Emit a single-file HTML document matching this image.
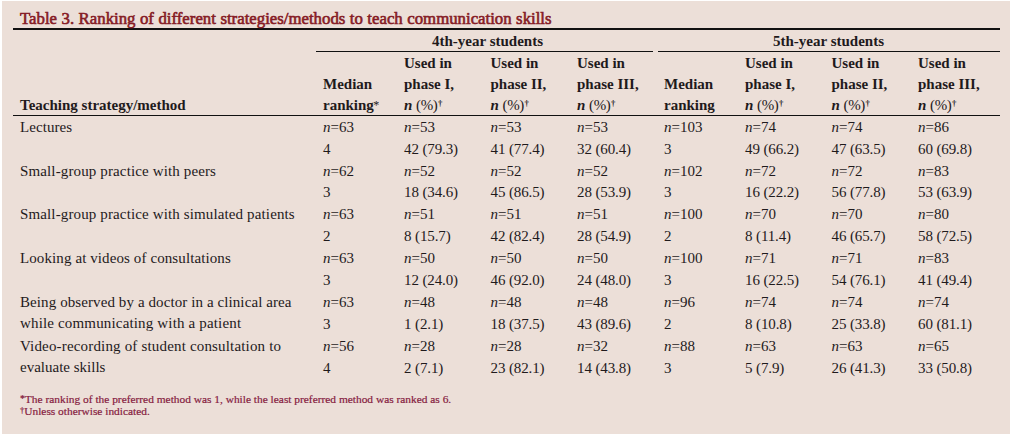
<!DOCTYPE html>
<html><head><meta charset="utf-8"><style>
html,body{margin:0;padding:0;background:#fff;width:1014px;height:434px;overflow:hidden}
#bg{position:absolute;left:2px;top:1px;width:1008px;height:433px;background:#ecdfd8}
.t{position:absolute;white-space:nowrap;font-family:"Liberation Serif",serif;line-height:20px;color:#1f1a1c}
.b{font-weight:bold}
.red{color:#861b25}
.ln{position:absolute;background:#111}
sup{font-size:0.6em;vertical-align:0.45em;line-height:0}
.nb{font-weight:normal;letter-spacing:-0.4px}
.dg{font-size:0.58em;vertical-align:0.45em;margin-left:0.5px}
.fa{font-size:0.85em;vertical-align:0.12em}
.fd{font-size:0.75em;vertical-align:0.22em}
.ast{font-size:0.8em;vertical-align:0.1em;font-weight:normal;margin-left:-0.5px}
</style></head><body><div id="bg"></div>
<div class="ln" style="left:13px;top:28px;width:987px;height:2px"></div><div class="ln" style="left:316px;top:51px;width:337px;height:1px"></div><div class="ln" style="left:658px;top:51px;width:342px;height:1px"></div><div class="ln" style="left:13px;top:115px;width:987px;height:1px"></div>
<div class="t red" style="left:20px;top:8.83px;font-size:16.8px;word-spacing:0.3px;-webkit-text-stroke:0.6px #861b25">Table 3. Ranking of different strategies/methods to teach communication skills</div><div class="t b" style="left:432px;top:30.54px;font-size:15px;">4th-year students</div><div class="t b" style="left:773px;top:30.54px;font-size:15px;">5th-year students</div><div class="t b" style="left:20px;top:94.94px;font-size:15px;">Teaching strategy/method</div><div class="t b" style="left:323px;top:73.64px;font-size:15px;">Median</div><div class="t b" style="left:323px;top:94.94px;font-size:15px;">ranking<sup class="ast">*</sup></div><div class="t b" style="left:664px;top:73.64px;font-size:15px;">Median</div><div class="t b" style="left:664px;top:94.94px;font-size:15px;">ranking</div><div class="t b" style="left:404px;top:52.74px;font-size:15px;">Used in</div><div class="t b" style="left:404px;top:73.64px;font-size:15px;">phase I,</div><div class="t b" style="left:404px;top:94.94px;font-size:15px;"><i>n</i> <span class="nb">(%)</span><sup class="dg">†</sup></div><div class="t b" style="left:490.5px;top:52.74px;font-size:15px;">Used in</div><div class="t b" style="left:490.5px;top:73.64px;font-size:15px;">phase II,</div><div class="t b" style="left:490.5px;top:94.94px;font-size:15px;"><i>n</i> <span class="nb">(%)</span><sup class="dg">†</sup></div><div class="t b" style="left:577px;top:52.74px;font-size:15px;">Used in</div><div class="t b" style="left:577px;top:73.64px;font-size:15px;">phase III,</div><div class="t b" style="left:577px;top:94.94px;font-size:15px;"><i>n</i> <span class="nb">(%)</span><sup class="dg">†</sup></div><div class="t b" style="left:745px;top:52.74px;font-size:15px;">Used in</div><div class="t b" style="left:745px;top:73.64px;font-size:15px;">phase I,</div><div class="t b" style="left:745px;top:94.94px;font-size:15px;"><i>n</i> <span class="nb">(%)</span><sup class="dg">†</sup></div><div class="t b" style="left:831.5px;top:52.74px;font-size:15px;">Used in</div><div class="t b" style="left:831.5px;top:73.64px;font-size:15px;">phase II,</div><div class="t b" style="left:831.5px;top:94.94px;font-size:15px;"><i>n</i> <span class="nb">(%)</span><sup class="dg">†</sup></div><div class="t b" style="left:918px;top:52.74px;font-size:15px;">Used in</div><div class="t b" style="left:918px;top:73.64px;font-size:15px;">phase III,</div><div class="t b" style="left:918px;top:94.94px;font-size:15px;"><i>n</i> <span class="nb">(%)</span><sup class="dg">†</sup></div><div class="t " style="left:20px;top:117.44px;font-size:15px;letter-spacing:0.08px">Lectures</div><div class="t " style="left:323px;top:117.44px;font-size:15px;"><i>n</i>=63</div><div class="t " style="left:323px;top:139.44px;font-size:15px;">4</div><div class="t " style="left:404px;top:117.44px;font-size:15px;"><i>n</i>=53</div><div class="t " style="left:404px;top:139.44px;font-size:15px;letter-spacing:-0.12px">42 (79.3)</div><div class="t " style="left:490.5px;top:117.44px;font-size:15px;"><i>n</i>=53</div><div class="t " style="left:490.5px;top:139.44px;font-size:15px;letter-spacing:-0.12px">41 (77.4)</div><div class="t " style="left:577px;top:117.44px;font-size:15px;"><i>n</i>=53</div><div class="t " style="left:577px;top:139.44px;font-size:15px;letter-spacing:-0.12px">32 (60.4)</div><div class="t " style="left:664px;top:117.44px;font-size:15px;"><i>n</i>=103</div><div class="t " style="left:664px;top:139.44px;font-size:15px;">3</div><div class="t " style="left:745px;top:117.44px;font-size:15px;"><i>n</i>=74</div><div class="t " style="left:745px;top:139.44px;font-size:15px;letter-spacing:-0.12px">49 (66.2)</div><div class="t " style="left:831.5px;top:117.44px;font-size:15px;"><i>n</i>=74</div><div class="t " style="left:831.5px;top:139.44px;font-size:15px;letter-spacing:-0.12px">47 (63.5)</div><div class="t " style="left:918px;top:117.44px;font-size:15px;"><i>n</i>=86</div><div class="t " style="left:918px;top:139.44px;font-size:15px;letter-spacing:-0.12px">60 (69.8)</div><div class="t " style="left:20px;top:160.64px;font-size:15px;letter-spacing:0.13px">Small-group practice with peers</div><div class="t " style="left:323px;top:160.64px;font-size:15px;"><i>n</i>=62</div><div class="t " style="left:323px;top:182.14px;font-size:15px;">3</div><div class="t " style="left:404px;top:160.64px;font-size:15px;"><i>n</i>=52</div><div class="t " style="left:404px;top:182.14px;font-size:15px;letter-spacing:-0.12px">18 (34.6)</div><div class="t " style="left:490.5px;top:160.64px;font-size:15px;"><i>n</i>=52</div><div class="t " style="left:490.5px;top:182.14px;font-size:15px;letter-spacing:-0.12px">45 (86.5)</div><div class="t " style="left:577px;top:160.64px;font-size:15px;"><i>n</i>=52</div><div class="t " style="left:577px;top:182.14px;font-size:15px;letter-spacing:-0.12px">28 (53.9)</div><div class="t " style="left:664px;top:160.64px;font-size:15px;"><i>n</i>=102</div><div class="t " style="left:664px;top:182.14px;font-size:15px;">3</div><div class="t " style="left:745px;top:160.64px;font-size:15px;"><i>n</i>=72</div><div class="t " style="left:745px;top:182.14px;font-size:15px;letter-spacing:-0.12px">16 (22.2)</div><div class="t " style="left:831.5px;top:160.64px;font-size:15px;"><i>n</i>=72</div><div class="t " style="left:831.5px;top:182.14px;font-size:15px;letter-spacing:-0.12px">56 (77.8)</div><div class="t " style="left:918px;top:160.64px;font-size:15px;"><i>n</i>=83</div><div class="t " style="left:918px;top:182.14px;font-size:15px;letter-spacing:-0.12px">53 (63.9)</div><div class="t " style="left:20px;top:203.94px;font-size:15px;letter-spacing:0.13px">Small-group practice with simulated patients</div><div class="t " style="left:323px;top:203.94px;font-size:15px;"><i>n</i>=63</div><div class="t " style="left:323px;top:225.94px;font-size:15px;">2</div><div class="t " style="left:404px;top:203.94px;font-size:15px;"><i>n</i>=51</div><div class="t " style="left:404px;top:225.94px;font-size:15px;letter-spacing:-0.12px">8 (15.7)</div><div class="t " style="left:490.5px;top:203.94px;font-size:15px;"><i>n</i>=51</div><div class="t " style="left:490.5px;top:225.94px;font-size:15px;letter-spacing:-0.12px">42 (82.4)</div><div class="t " style="left:577px;top:203.94px;font-size:15px;"><i>n</i>=51</div><div class="t " style="left:577px;top:225.94px;font-size:15px;letter-spacing:-0.12px">28 (54.9)</div><div class="t " style="left:664px;top:203.94px;font-size:15px;"><i>n</i>=100</div><div class="t " style="left:664px;top:225.94px;font-size:15px;">2</div><div class="t " style="left:745px;top:203.94px;font-size:15px;"><i>n</i>=70</div><div class="t " style="left:745px;top:225.94px;font-size:15px;letter-spacing:-0.12px">8 (11.4)</div><div class="t " style="left:831.5px;top:203.94px;font-size:15px;"><i>n</i>=70</div><div class="t " style="left:831.5px;top:225.94px;font-size:15px;letter-spacing:-0.12px">46 (65.7)</div><div class="t " style="left:918px;top:203.94px;font-size:15px;"><i>n</i>=80</div><div class="t " style="left:918px;top:225.94px;font-size:15px;letter-spacing:-0.12px">58 (72.5)</div><div class="t " style="left:20px;top:247.94px;font-size:15px;letter-spacing:0.1px">Looking at videos of consultations</div><div class="t " style="left:323px;top:247.94px;font-size:15px;"><i>n</i>=63</div><div class="t " style="left:323px;top:270.44px;font-size:15px;">3</div><div class="t " style="left:404px;top:247.94px;font-size:15px;"><i>n</i>=50</div><div class="t " style="left:404px;top:270.44px;font-size:15px;letter-spacing:-0.12px">12 (24.0)</div><div class="t " style="left:490.5px;top:247.94px;font-size:15px;"><i>n</i>=50</div><div class="t " style="left:490.5px;top:270.44px;font-size:15px;letter-spacing:-0.12px">46 (92.0)</div><div class="t " style="left:577px;top:247.94px;font-size:15px;"><i>n</i>=50</div><div class="t " style="left:577px;top:270.44px;font-size:15px;letter-spacing:-0.12px">24 (48.0)</div><div class="t " style="left:664px;top:247.94px;font-size:15px;"><i>n</i>=100</div><div class="t " style="left:664px;top:270.44px;font-size:15px;">3</div><div class="t " style="left:745px;top:247.94px;font-size:15px;"><i>n</i>=71</div><div class="t " style="left:745px;top:270.44px;font-size:15px;letter-spacing:-0.12px">16 (22.5)</div><div class="t " style="left:831.5px;top:247.94px;font-size:15px;"><i>n</i>=71</div><div class="t " style="left:831.5px;top:270.44px;font-size:15px;letter-spacing:-0.12px">54 (76.1)</div><div class="t " style="left:918px;top:247.94px;font-size:15px;"><i>n</i>=83</div><div class="t " style="left:918px;top:270.44px;font-size:15px;letter-spacing:-0.12px">41 (49.4)</div><div class="t " style="left:20px;top:291.74px;font-size:15px;letter-spacing:0.093px">Being observed by a doctor in a clinical area</div><div class="t " style="left:20px;top:312.74px;font-size:15px;letter-spacing:0.16px">while communicating with a patient</div><div class="t " style="left:323px;top:291.74px;font-size:15px;"><i>n</i>=63</div><div class="t " style="left:323px;top:313.94px;font-size:15px;">3</div><div class="t " style="left:404px;top:291.74px;font-size:15px;"><i>n</i>=48</div><div class="t " style="left:404px;top:313.94px;font-size:15px;letter-spacing:-0.12px">1 (2.1)</div><div class="t " style="left:490.5px;top:291.74px;font-size:15px;"><i>n</i>=48</div><div class="t " style="left:490.5px;top:313.94px;font-size:15px;letter-spacing:-0.12px">18 (37.5)</div><div class="t " style="left:577px;top:291.74px;font-size:15px;"><i>n</i>=48</div><div class="t " style="left:577px;top:313.94px;font-size:15px;letter-spacing:-0.12px">43 (89.6)</div><div class="t " style="left:664px;top:291.74px;font-size:15px;"><i>n</i>=96</div><div class="t " style="left:664px;top:313.94px;font-size:15px;">2</div><div class="t " style="left:745px;top:291.74px;font-size:15px;"><i>n</i>=74</div><div class="t " style="left:745px;top:313.94px;font-size:15px;letter-spacing:-0.12px">8 (10.8)</div><div class="t " style="left:831.5px;top:291.74px;font-size:15px;"><i>n</i>=74</div><div class="t " style="left:831.5px;top:313.94px;font-size:15px;letter-spacing:-0.12px">25 (33.8)</div><div class="t " style="left:918px;top:291.74px;font-size:15px;"><i>n</i>=74</div><div class="t " style="left:918px;top:313.94px;font-size:15px;letter-spacing:-0.12px">60 (81.1)</div><div class="t " style="left:20px;top:335.54px;font-size:15px;letter-spacing:0.17px">Video-recording of student consultation to</div><div class="t " style="left:20px;top:356.54px;font-size:15px;letter-spacing:0px">evaluate skills</div><div class="t " style="left:323px;top:335.54px;font-size:15px;"><i>n</i>=56</div><div class="t " style="left:323px;top:358.34px;font-size:15px;">4</div><div class="t " style="left:404px;top:335.54px;font-size:15px;"><i>n</i>=28</div><div class="t " style="left:404px;top:358.34px;font-size:15px;letter-spacing:-0.12px">2 (7.1)</div><div class="t " style="left:490.5px;top:335.54px;font-size:15px;"><i>n</i>=28</div><div class="t " style="left:490.5px;top:358.34px;font-size:15px;letter-spacing:-0.12px">23 (82.1)</div><div class="t " style="left:577px;top:335.54px;font-size:15px;"><i>n</i>=32</div><div class="t " style="left:577px;top:358.34px;font-size:15px;letter-spacing:-0.12px">14 (43.8)</div><div class="t " style="left:664px;top:335.54px;font-size:15px;"><i>n</i>=88</div><div class="t " style="left:664px;top:358.34px;font-size:15px;">3</div><div class="t " style="left:745px;top:335.54px;font-size:15px;"><i>n</i>=63</div><div class="t " style="left:745px;top:358.34px;font-size:15px;letter-spacing:-0.12px">5 (7.9)</div><div class="t " style="left:831.5px;top:335.54px;font-size:15px;"><i>n</i>=63</div><div class="t " style="left:831.5px;top:358.34px;font-size:15px;letter-spacing:-0.12px">26 (41.3)</div><div class="t " style="left:918px;top:335.54px;font-size:15px;"><i>n</i>=65</div><div class="t " style="left:918px;top:358.34px;font-size:15px;letter-spacing:-0.12px">33 (50.8)</div><div class="t red" style="left:20px;top:388.95px;font-size:11.4px;color:#86203f;-webkit-text-stroke:0.2px #86203f"><sup class="fa">*</sup>The ranking of the preferred method was 1, while the least preferred method was ranked as 6.</div><div class="t red" style="left:20px;top:400.55px;font-size:11.4px;color:#86203f;-webkit-text-stroke:0.2px #86203f"><sup class="fd">†</sup>Unless otherwise indicated.</div>
</body></html>
